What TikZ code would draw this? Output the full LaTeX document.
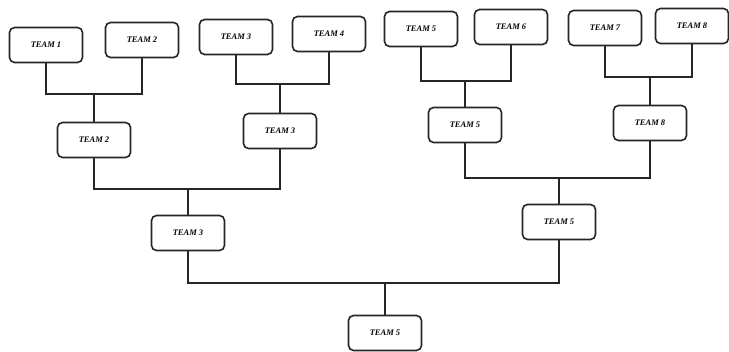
\documentclass[tikz,border=0pt]{standalone}
\usepackage{fontspec}
\setmainfont{Liberation Serif}
\begin{document}
\begin{tikzpicture}[x=1pt,y=-1pt,
  teambox/.style={draw=black!85, line width=1.6pt, rounded corners=5pt, fill=white,
    minimum width=73pt, minimum height=35pt, inner sep=1pt,
    font=\fontsize{8.5}{9}\selectfont\bfseries\itshape},
  link/.style={draw=black!85, line width=1.5pt}]
\useasboundingbox (0,0) rectangle (729,352);
% round 1
\node[teambox] (t1) at (46,45) {TEAM 1};
\node[teambox] (t2) at (142,40) {TEAM 2};
\node[teambox] (t3) at (236,37) {TEAM 3};
\node[teambox] (t4) at (329,34) {TEAM 4};
\node[teambox] (t5) at (421,29) {TEAM 5};
\node[teambox] (t6) at (511,27) {TEAM 6};
\node[teambox] (t7) at (605,28) {TEAM 7};
\node[teambox] (t8) at (692,26) {TEAM 8};
% round 2
\node[teambox] (s1) at (94,140) {TEAM 2};
\node[teambox] (s2) at (280,131) {TEAM 3};
\node[teambox] (s3) at (465,125) {TEAM 5};
\node[teambox] (s4) at (650,123) {TEAM 8};
% round 3
\node[teambox] (q1) at (188,233) {TEAM 3};
\node[teambox] (q2) at (559,222) {TEAM 5};
% final
\node[teambox] (f) at (385,333) {TEAM 5};
% junctions
\coordinate (j1) at (94,94);
\coordinate (j2) at (280,84);
\coordinate (j3) at (465,81);
\coordinate (j4) at (650,77);
\coordinate (k1) at (188,189);
\coordinate (k2) at (559,178);
\coordinate (m1) at (385,283);
% connectors
\draw[link] (t1.south) |- (j1) -| (t2.south);
\draw[link] (j1) -- (s1.north);
\draw[link] (t3.south) |- (j2) -| (t4.south);
\draw[link] (j2) -- (s2.north);
\draw[link] (t5.south) |- (j3) -| (t6.south);
\draw[link] (j3) -- (s3.north);
\draw[link] (t7.south) |- (j4) -| (t8.south);
\draw[link] (j4) -- (s4.north);
\draw[link] (s1.south) |- (k1) -| (s2.south);
\draw[link] (k1) -- (q1.north);
\draw[link] (s3.south) |- (k2) -| (s4.south);
\draw[link] (k2) -- (q2.north);
\draw[link] (q1.south) |- (m1) -| (q2.south);
\draw[link] (m1) -- (f.north);
\end{tikzpicture}
\end{document}
